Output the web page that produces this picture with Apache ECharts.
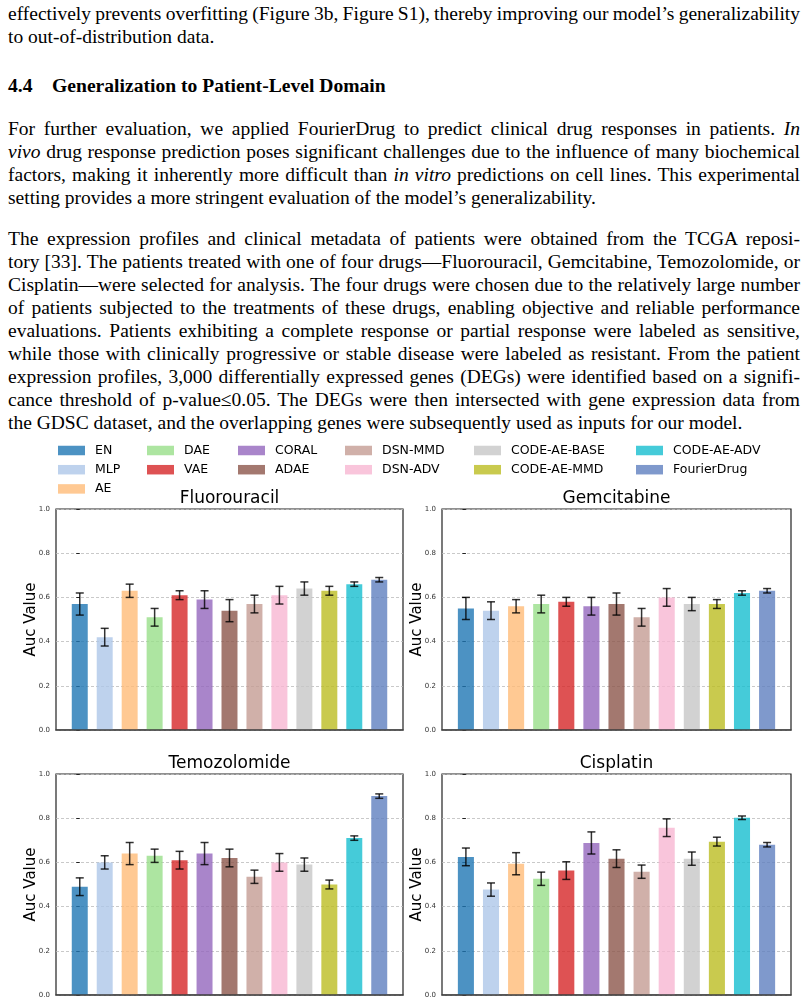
<!DOCTYPE html>
<html>
<head>
    <meta charset="utf-8">
    <title>Generalization to Patient-Level Domain</title>
    <script src="https://cdn.jsdelivr.net/npm/echarts@6/dist/echarts.min.js"></script>
    <style>
        body { margin: 0; background: #fff; }
        #page { position: relative; width: 808px; height: 1005px; overflow: hidden; }
        .blk { position: absolute; left: 8px; width: 792px; font-family: 'Liberation Serif', 'Times New Roman', serif;
               font-size: 19.5px; line-height: 23px; color: #000; }
        .ln { text-align: justify; text-align-last: justify; word-spacing: -2px; }
        .last { text-align: left; text-align-last: left; word-spacing: 0; }
        h3 { margin: 0; font-size: 19.6px; font-weight: bold; }
        #main { position: absolute; left: 0; top: 430px; width: 808px; height: 575px; }
    </style>
</head>
<body>
<div id="page">
    <div class="blk" style="top:2px;">
        <div class="ln">effectively prevents overfitting (Figure 3b, Figure S1), thereby improving our model’s generalizability</div>
        <div class="ln last">to out-of-distribution data.</div>
    </div>
    <div class="blk" style="top:74px;">
        <h3>4.4&nbsp;&nbsp;&nbsp;&nbsp;Generalization to Patient-Level Domain</h3>
    </div>
    <div class="blk" style="top:117px;">
        <div class="ln">For further evaluation, we applied FourierDrug to predict clinical drug responses in patients. <i>In</i></div>
        <div class="ln"><i>vivo</i> drug response prediction poses significant challenges due to the influence of many biochemical</div>
        <div class="ln">factors, making it inherently more difficult than <i>in vitro</i> predictions on cell lines. This experimental</div>
        <div class="ln last">setting provides a more stringent evaluation of the model’s generalizability.</div>
    </div>
    <div class="blk" style="top:227px;">
        <div class="ln">The expression profiles and clinical metadata of patients were obtained from the TCGA reposi-</div>
        <div class="ln">tory [33]. The patients treated with one of four drugs—Fluorouracil, Gemcitabine, Temozolomide, or</div>
        <div class="ln">Cisplatin—were selected for analysis. The four drugs were chosen due to the relatively large number</div>
        <div class="ln">of patients subjected to the treatments of these drugs, enabling objective and reliable performance</div>
        <div class="ln">evaluations. Patients exhibiting a complete response or partial response were labeled as sensitive,</div>
        <div class="ln">while those with clinically progressive or stable disease were labeled as resistant. From the patient</div>
        <div class="ln">expression profiles, 3,000 differentially expressed genes (DEGs) were identified based on a signifi-</div>
        <div class="ln">cance threshold of p-value≤0.05. The DEGs were then intersected with gene expression data from</div>
        <div class="ln last">the GDSC dataset, and the overlapping genes were subsequently used as inputs for our model.</div>
    </div>
    <div id="main"></div>
</div>
<script type="text/javascript">
    // 資料
    var methods = ['EN', 'MLP', 'AE', 'DAE', 'VAE', 'CORAL', 'ADAE', 'DSN-MMD', 'DSN-ADV',
                   'CODE-AE-BASE', 'CODE-AE-MMD', 'CODE-AE-ADV', 'FourierDrug'];
    var drugs = ['Fluorouracil', 'Gemcitabine', 'Temozolomide', 'Cisplatin'];

    var fluoroMean = [0.57, 0.42, 0.63, 0.51, 0.61, 0.59, 0.54, 0.57, 0.61, 0.64, 0.63, 0.66, 0.68];
    var fluoroErr  = [0.05, 0.04, 0.03, 0.04, 0.02, 0.04, 0.05, 0.04, 0.04, 0.03, 0.02, 0.01, 0.01];
    var gemMean    = [0.55, 0.54, 0.56, 0.57, 0.58, 0.56, 0.57, 0.51, 0.60, 0.57, 0.57, 0.62, 0.63];
    var gemErr     = [0.05, 0.04, 0.03, 0.04, 0.02, 0.04, 0.05, 0.04, 0.04, 0.03, 0.02, 0.01, 0.01];
    var temoMean   = [0.49, 0.60, 0.64, 0.63, 0.61, 0.64, 0.62, 0.535, 0.60, 0.59, 0.50, 0.71, 0.90];
    var temoErr    = [0.04, 0.03, 0.05, 0.03, 0.04, 0.05, 0.04, 0.03, 0.04, 0.03, 0.02, 0.01, 0.01];
    var cispMean   = [0.625, 0.477, 0.594, 0.526, 0.563, 0.688, 0.617, 0.558, 0.757, 0.617, 0.694, 0.802, 0.68];
    var cispErr    = [0.04, 0.03, 0.05, 0.03, 0.04, 0.05, 0.04, 0.03, 0.04, 0.03, 0.02, 0.008, 0.01];

    // 樣式
    var colors = ['#1f77b4', '#aec7e8', '#ffbb78', '#98df8a', '#d62728', '#9467bd', '#8c564b',
                  '#c49c94', '#f7b6d2', '#c7c7c7', '#bcbd22', '#17becf', '#5f7fbf'];
    var legendCols = [['EN', 'MLP', 'AE'], ['DAE', 'VAE'], ['CORAL', 'ADAE'], ['DSN-MMD', 'DSN-ADV'],
                      ['CODE-AE-BASE', 'CODE-AE-MMD'], ['CODE-AE-ADV', 'FourierDrug']];
    var legendX = [58, 147, 238, 345, 474, 636];
    var grids = [
        {left: 56, top: 79, width: 347, height: 221},
        {left: 442, top: 79, width: 349, height: 221},
        {left: 56, top: 344, width: 347, height: 221},
        {left: 442, top: 344, width: 349, height: 221}
    ];

    var means = [fluoroMean, gemMean, temoMean, cispMean];
    var errs = [fluoroErr, gemErr, temoErr, cispErr];

    function rgba(hex, a) {
        var n = parseInt(hex.slice(1), 16);
        return 'rgba(' + (n >> 16) + ',' + ((n >> 8) & 255) + ',' + (n & 255) + ',' + a + ')';
    }

    // 長條 + 誤差線
    function drawBar(params, api) {
        var x = api.value(0), v = api.value(1), e = api.value(2);
        var p0 = api.coord([x, 0]);
        var p1 = api.coord([x, v]);
        var hi = api.coord([x, v + e]);
        var lo = api.coord([x, v - e]);
        var w = api.size([0.64, 0])[0];
        var c = 4;
        var eb = {stroke: 'rgba(0,0,0,0.8)', lineWidth: 1.5};
        return {
            type: 'group',
            children: [
                {type: 'rect', shape: {x: p0[0] - w / 2, y: p1[1], width: w, height: p0[1] - p1[1]},
                 style: {fill: api.visual('color')}},
                {type: 'line', shape: {x1: hi[0], y1: hi[1], x2: lo[0], y2: lo[1]}, style: eb},
                {type: 'line', shape: {x1: hi[0] - c, y1: hi[1], x2: hi[0] + c, y2: hi[1]}, style: eb},
                {type: 'line', shape: {x1: lo[0] - c, y1: lo[1], x2: lo[0] + c, y2: lo[1]}, style: eb}
            ]
        };
    }

    var series = [];
    drugs.forEach(function (d, g) {
        methods.forEach(function (m, i) {
            var col = rgba(colors[i], 0.8);
            series.push({
                type: 'custom',
                name: m,
                xAxisIndex: g,
                yAxisIndex: g,
                color: col,
                itemStyle: {color: col},
                renderItem: drawBar,
                encode: {x: 0, y: 1},
                data: [[i, means[g][i], errs[g][i]]]
            });
        });
    });

    var echart = echarts.init(document.getElementById('main'));
    var option = {
        animation: false,
        textStyle: {fontFamily: 'DejaVu Sans'},
        title: drugs.map(function (d, g) {
            return {
                text: d,
                left: grids[g].left + grids[g].width / 2,
                top: grids[g].top - 19,
                textAlign: 'center',
                padding: 0,
                textStyle: {fontSize: 17, fontWeight: 'normal', color: '#000', fontFamily: 'DejaVu Sans'}
            };
        }),
        legend: legendCols.map(function (col, k) {
            return {
                data: col,
                orient: 'vertical',
                left: legendX[k],
                top: 14,
                padding: 0,
                icon: 'rect',
                itemWidth: 27,
                itemHeight: 9.5,
                itemGap: 6.2,
                selectedMode: false,
                textStyle: {fontSize: 12.5, lineHeight: 13, color: '#000', fontFamily: 'DejaVu Sans', padding: [0, 0, 0, 5]}
            };
        }),
        grid: grids.map(function (gr) {
            return {left: gr.left, top: gr.top, width: gr.width, height: gr.height,
                    show: true, borderColor: '#222', borderWidth: 1.2, backgroundColor: '#fff'};
        }),
        xAxis: grids.map(function (gr, g) {
            return {
                type: 'value', gridIndex: g, min: -0.952, max: 12.952, z: 5,
                axisLine: {show: true, onZero: false, lineStyle: {color: '#444', width: 1.6}},
                axisTick: {show: false}, axisLabel: {show: false}, splitLine: {show: false}
            };
        }),
        yAxis: grids.map(function (gr, g) {
            return {
                type: 'value', gridIndex: g, min: 0, max: 1, interval: 0.2,
                name: 'Auc Value', nameLocation: 'middle', nameGap: 17, nameMoveOverlap: false,
                nameTextStyle: {fontSize: 15, color: '#000', fontFamily: 'DejaVu Sans'},
                axisLine: {show: false},
                axisTick: {show: true, length: 3.5, lineStyle: {color: '#222'}},
                axisLabel: {fontSize: 7, color: '#333', margin: 6,
                            formatter: function (v) { return v.toFixed(1); }},
                splitLine: {show: true, lineStyle: {color: '#bbb', type: [3, 2], width: 0.8}}
            };
        }),
        series: series
    };
    echart.setOption(option);
</script>
</body>
</html>
